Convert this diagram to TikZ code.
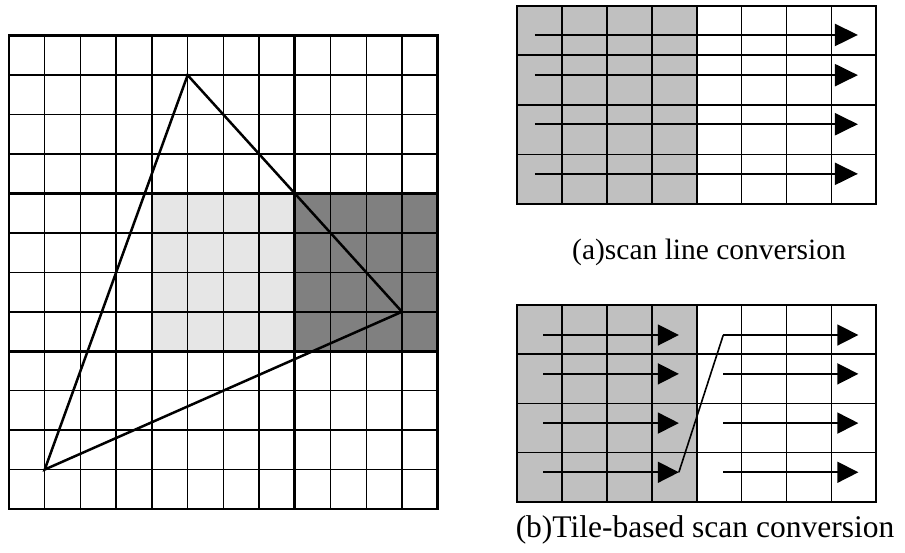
\documentclass[tikz,border=0pt]{standalone}
\usepackage{fontspec}
\setmainfont{Liberation Serif}
\usetikzlibrary{arrows.meta}
\definecolor{lightfill}{RGB}{230,230,230}
\definecolor{darkfill}{RGB}{128,128,128}
\definecolor{tilefill}{RGB}{192,192,192}
\begin{document}
\begin{tikzpicture}[x=1pt,y=-1pt,
  thingrid/.style={line width=1.5pt},
  thickgrid/.style={line width=2.7pt},
  tilegrid/.style={line width=1.6pt},
  triline/.style={line width=2.5pt, line join=miter},
  scanarrow/.style={line width=2.2pt, -{Triangle[length=23pt,width=22pt]}},
  tilearrow/.style={line width=1.6pt, -{Triangle[length=21pt,width=21pt]}},
  caption/.style={anchor=base, inner sep=0pt, font=\fontsize{29.5}{32}\selectfont}]
\useasboundingbox (0,0) rectangle (905,553);

% Left 12x12 grid with triangle
\begin{scope}[shift={(9,35.7)}, x=35.725pt, y=-39.44pt]
  \fill[lightfill] (4,4) rectangle (8,8);
  \fill[darkfill] (8,4) rectangle (12,8);
  \foreach \i in {1,2,3,5,6,7,9,10,11} {
    \draw[thingrid] (\i,0) -- (\i,12);
    \draw[thingrid] (0,\i) -- (12,\i);
  }
  \foreach \i in {0,4,8,12} {
    \draw[thickgrid] (\i,0) -- (\i,12);
    \draw[thickgrid] (0,\i) -- (12,\i);
  }
  \draw[thickgrid, line cap=rect] (0,0) rectangle (12,12);
  \coordinate (tA) at (5,1);
  \coordinate (tB) at (11,7);
  \coordinate (tC) at (1,11);
  \draw[triline] (tA) -- (tB) -- (tC) -- cycle;
\end{scope}

% (a) scan line conversion
\begin{scope}[shift={(517.3,5.7)}, x=44.875pt, y=-49.6pt]
  \fill[tilefill] (0,0) rectangle (4,4);
  \foreach \i in {1,...,7} \draw[tilegrid] (\i,0) -- (\i,4);
  \foreach \j in {1,2,3} \draw[tilegrid] (0,\j) -- (8,\j);
  \draw[line width=1.9pt] (0,0) rectangle (8,4);
  \foreach \r [count=\k] in {0.59,1.40,2.39,3.39} {
    \coordinate (as\k) at (0.39,\r);
    \coordinate (ae\k) at (7.59,\r);
    \draw[scanarrow] (as\k) -- (ae\k);
  }
\end{scope}
\node[caption] (capa) at (709,260) {(a)scan line conversion};

% (b) tile-based scan conversion
\begin{scope}[shift={(517.3,305)}, x=44.875pt, y=-49.2pt]
  \fill[tilefill] (0,0) rectangle (4,4);
  \foreach \i in {1,...,7} \draw[tilegrid] (\i,0) -- (\i,4);
  \foreach \j in {1,2,3} \draw[tilegrid] (0,\j) -- (8,\j);
  \draw[line width=1.9pt] (0,0) rectangle (8,4);
  \foreach \r [count=\k] in {0.61,1.40,2.40,3.40} {
    \coordinate (bls\k) at (0.58,\r);
    \coordinate (ble\k) at (3.60,\r);
    \coordinate (brs\k) at (4.59,\r);
    \coordinate (bre\k) at (7.60,\r);
    \draw[tilearrow] (bls\k) -- (ble\k);
    \draw[tilearrow] (brs\k) -- (bre\k);
  }
  \draw[line width=1.6pt] (ble4) -- (brs1);
\end{scope}
\node[caption, font=\fontsize{31.5}{34}\selectfont] (capb) at (705,537.7) {(b)Tile-based scan conversion};
\end{tikzpicture}
\end{document}
